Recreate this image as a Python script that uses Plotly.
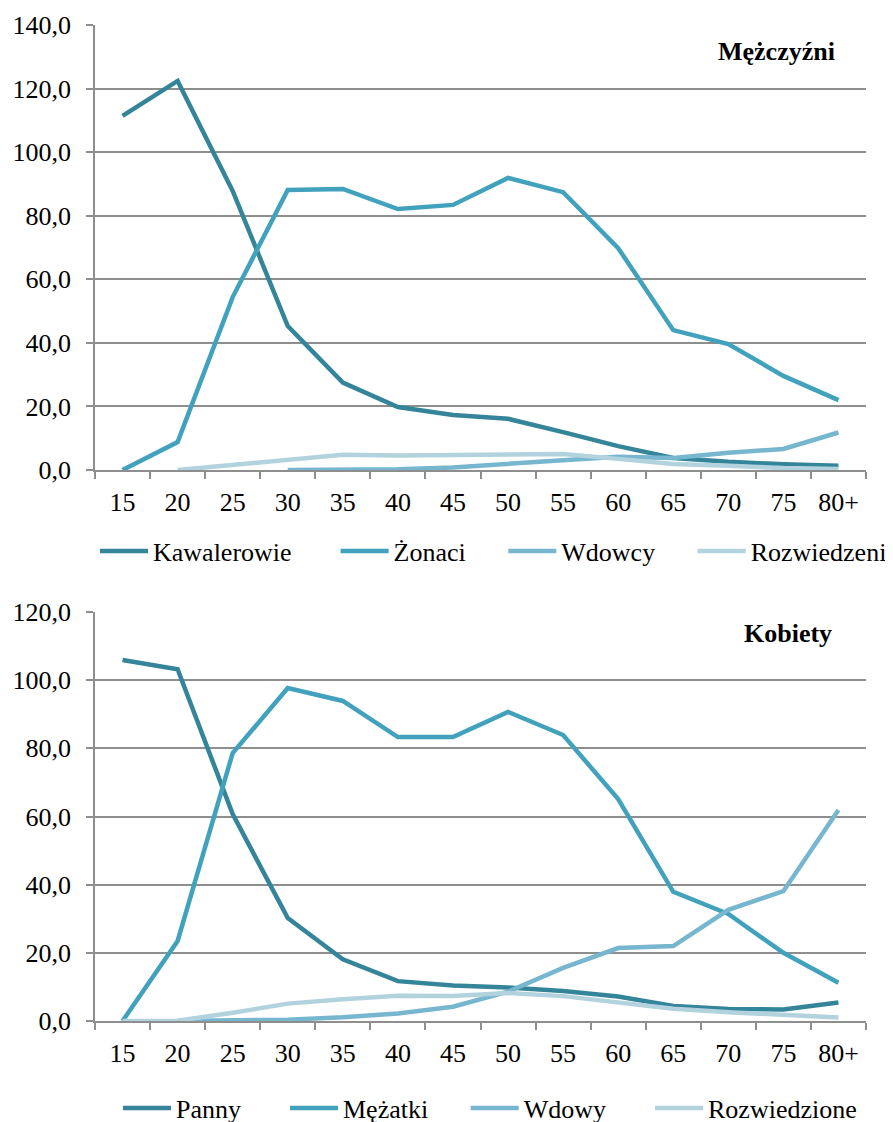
#
# Marriage-status rates by age group, men (top) and women (bottom)
#
import plotly.graph_objects as go

AGES = ["15", "20", "25", "30", "35", "40", "45", "50", "55", "60", "65", "70", "75", "80+"]

# Mężczyźni
kawalerowie = [111.4, 122.4, 87.8, 45.3, 27.5, 19.8, 17.3, 16.1, 11.9, 7.5, 3.8, 2.6, 1.8, 1.3]
zonaci = [0.0, 8.8, 54.4, 88.1, 88.4, 82.1, 83.4, 91.9, 87.4, 69.8, 44.0, 39.6, 29.6, 22.0]
wdowcy = [None, None, None, 0.0, 0.1, 0.2, 0.8, 1.9, 3.3, 4.2, 3.8, 5.4, 6.6, 11.8]
rozwiedzeni = [None, 0.0, 1.5, 3.3, 4.8, 4.6, 4.8, 5.0, 5.0, 3.5, 1.9, 1.3, 0.6, 0.3]

# Kobiety
panny = [105.9, 103.2, 60.7, 30.2, 18.1, 11.7, 10.4, 9.8, 8.8, 7.2, 4.4, 3.5, 3.4, 5.4]
mezatki = [0.0, 23.5, 78.6, 97.7, 93.9, 83.3, 83.3, 90.7, 83.9, 65.1, 37.9, 31.4, 20.0, 11.2]
wdowy = [None, 0.0, 0.1, 0.4, 1.1, 2.2, 4.2, 8.6, 15.6, 21.4, 22.0, 32.6, 38.1, 61.9]
rozwiedzione = [0.0, 0.1, 2.4, 5.1, 6.4, 7.4, 7.3, 8.2, 7.3, 5.3, 3.6, 2.6, 1.9, 1.0]

COLORS = ["#35859A", "#42A2BD", "#76B6CE", "#B2D3DE"]
FONT = "Times New Roman"
GRID = "#8E8E8E"
W, H = 885, 1122          # page body has an 8px margin; leave room below the legend
NB = "\u00a0"             # padding between legend entries

men = [("Kawalerowie" + NB * 6, kawalerowie), ("Żonaci" + NB * 5, zonaci),
       ("Wdowcy" + NB * 5, wdowcy), ("Rozwiedzeni", rozwiedzeni)]
women = [("Panny" + NB * 6, panny), ("Mężatki" + NB * 5, mezatki),
         ("Wdowy" + NB * 6, wdowy), ("Rozwiedzione", rozwiedzione)]

fig = go.Figure()

for (name, vals), c in zip(men, COLORS):
    fig.add_trace(go.Scatter(x=AGES, y=vals, mode="lines", name=name,
                             line=dict(color=c, width=4.5), legend="legend",
                             xaxis="x", yaxis="y"))

for (name, vals), c in zip(women, COLORS):
    fig.add_trace(go.Scatter(x=AGES, y=vals, mode="lines", name=name,
                             line=dict(color=c, width=4.5), legend="legend2",
                             xaxis="x2", yaxis="y2"))

# plot areas in figure pixels: x 87..858, top y 17..462, bottom y 604..1013
xdom = [87 / W, 858 / W]
xstyle = dict(type="category", range=[-0.5, len(AGES) - 0.5],
              tickson="boundaries", ticks="outside", ticklen=7,
              tickcolor=GRID, tickwidth=1.5, showline=True, linecolor=GRID, linewidth=1.5,
              showgrid=False, tickfont=dict(family=FONT, size=26, color="black"),
              ticklabelstandoff=8, domain=xdom)
ystyle = dict(ticks="outside", ticklen=7, tickcolor=GRID, tickwidth=1.5,
              showline=True, linecolor=GRID, linewidth=1.5,
              showgrid=True, gridcolor=GRID, gridwidth=1.5, zeroline=False,
              tickformat=".1f", dtick=20, tickfont=dict(family=FONT, size=26, color="black"),
              ticklabelstandoff=10)

fig.update_layout(
    xaxis=dict(xstyle, anchor="y"),
    yaxis=dict(ystyle, anchor="x", range=[0, 140], domain=[1 - 462 / H, 1 - 17 / H]),
    xaxis2=dict(xstyle, anchor="y2"),
    yaxis2=dict(ystyle, anchor="x2", range=[0, 120], domain=[1 - 1013 / H, 1 - 604 / H]),
)

fig.add_annotation(text="<b>Mężczyźni</b>", xref="paper", yref="paper", x=829 / W, y=1 - 43.5 / H,
                   xanchor="right", yanchor="middle", showarrow=False,
                   font=dict(size=26, color="black", family=FONT))
fig.add_annotation(text="<b>Kobiety</b>", xref="paper", yref="paper", x=826 / W, y=1 - 625.5 / H,
                   xanchor="right", yanchor="middle", showarrow=False,
                   font=dict(size=26, color="black", family=FONT))

fig.update_layout(
    width=W, height=H,
    margin=dict(l=0, r=0, t=0, b=0, autoexpand=False),
    plot_bgcolor="white", paper_bgcolor="white",
    separators=", ",
    font=dict(family=FONT, size=26, color="black"),
    showlegend=True,
    legend=dict(orientation="h", x=87 / W, y=1 - 543 / H, xanchor="left", yanchor="middle",
                font=dict(family=FONT, size=26), itemwidth=48, tracegroupgap=0),
    legend2=dict(orientation="h", x=110 / W, y=1 - 1100 / H, xanchor="left", yanchor="middle",
                 font=dict(family=FONT, size=26), itemwidth=48, tracegroupgap=0),
)

fig.write_html("out.html")
